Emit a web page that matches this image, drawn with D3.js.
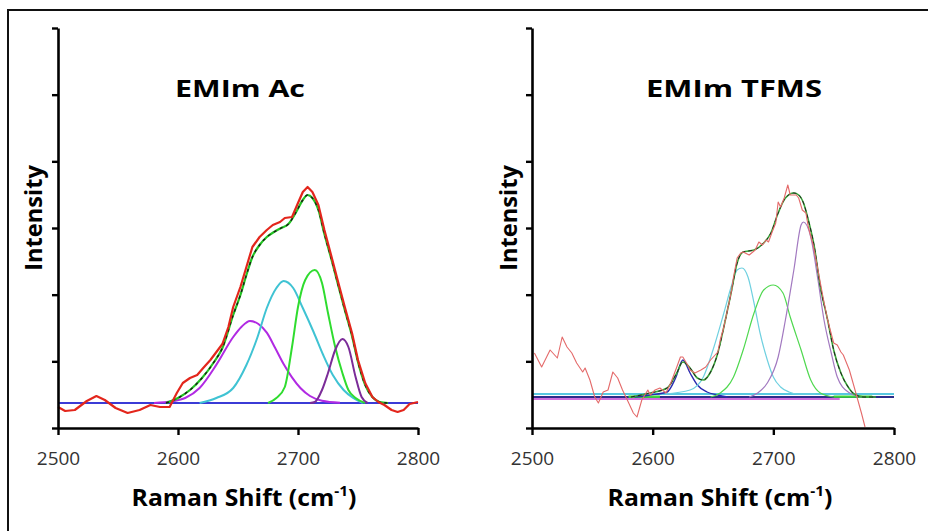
<!DOCTYPE html>
<html>
<head>
<meta charset="utf-8">
<script src="https://cdn.jsdelivr.net/npm/d3@7"></script>
<style>
  html, body { margin: 0; padding: 0; background: #fff; }
  svg { display: block; font-family: "Open Sans", "DejaVu Sans", sans-serif; }
</style>
</head>
<body>
<svg id="chart" width="928" height="531"></svg>
<script>
// Axis ticks shared by both spectra
const xTicks = [2500, 2600, 2700, 2800];
const yTicks = [0, 1, 2, 3, 4, 5, 6];
const panelTitles = ["EMIm Ac", "EMIm TFMS"];
const xAxisTitle = "Raman Shift (cm";
const yAxisTitle = "Intensity";

// ---- EMIm Ac: measured spectrum, total fit, baseline and fitted bands ----
const acRaw = [
  [2500,0.315],[2506,0.255],[2514,0.27],[2524,0.405],[2532,0.48],[2539,0.42],
  [2548,0.30],[2558,0.225],[2568,0.27],[2577,0.345],[2585,0.315],[2593,0.315],
  [2599,0.525],[2604,0.675],[2610,0.75],[2616,0.795],[2621,0.9],[2627,1.02],
  [2632,1.14],[2637,1.26],[2642,1.515],[2646,1.815],[2652,2.115],[2657,2.415],
  [2662,2.715],[2668,2.865],[2674,2.97],[2679,3.045],[2685,3.09],[2689,3.15],
  [2695,3.165],[2700,3.375],[2704,3.54],[2708,3.615],[2712,3.54],[2717,3.345],
  [2722,2.97],[2728,2.565],[2733,2.22],[2739,1.815],[2745,1.425],[2750,1.02],
  [2756,0.675],[2762,0.465],[2767,0.39],[2772,0.345],[2778,0.27],[2783,0.24],
  [2788,0.27],[2793,0.36],[2800,0.39]
];
const acFit = [
  [2590,0.375],[2600,0.45],[2610,0.57],[2620,0.75],[2630,0.99],[2637,1.2],
  [2646,1.695],[2652,1.995],[2657,2.295],[2662,2.565],[2668,2.745],[2674,2.865],
  [2680,2.94],[2686,3.0],[2692,3.06],[2698,3.225],[2704,3.42],[2708,3.495],
  [2712,3.45],[2717,3.27],[2722,2.91],[2728,2.52],[2733,2.175],[2739,1.77],
  [2745,1.38],[2750,0.99],[2756,0.645],[2762,0.465],[2768,0.39],[2775,0.375]
];
const acBaseline = [[2500,0.375],[2800,0.375]];
const acBand2660 = [
  [2580,0.375],[2595,0.40],[2606,0.45],[2618,0.6],[2632,0.95],[2646,1.365],
  [2653,1.52],[2660,1.605],[2667,1.56],[2674,1.43],[2681,1.2],[2688,0.96],
  [2695,0.76],[2702,0.6],[2710,0.48],[2720,0.41],[2735,0.38]
];
const acBand2688 = [
  [2618,0.375],[2632,0.45],[2646,0.6],[2657,0.945],[2666,1.35],[2674,1.8],
  [2682,2.1],[2688,2.205],[2696,2.1],[2704,1.8],[2713,1.44],[2721,1.095],
  [2729,0.795],[2738,0.57],[2746,0.45],[2754,0.375]
];
const acBand2714 = [
  [2675,0.375],[2682,0.45],[2689,0.615],[2695,1.215],[2700,1.815],[2706,2.22],
  [2714,2.37],[2720,2.175],[2725,1.725],[2731,1.215],[2737,0.825],[2742,0.57],
  [2748,0.45],[2756,0.375]
];
const acBand2737 = [
  [2710,0.375],[2714,0.39],[2720,0.57],[2725,0.825],[2731,1.17],[2737,1.335],
  [2742,1.215],[2748,0.765],[2753,0.465],[2758,0.375]
];

// ---- EMIm TFMS: measured spectrum, total fit, baselines and fitted bands ----
const tfRaw = [
  [2502,1.125],[2508,0.915],[2515,1.17],[2521,1.05],[2525,1.365],[2529,1.215],
  [2533,1.125],[2537,0.975],[2542,0.84],[2544,0.9],[2548,0.72],[2552,0.465],
  [2555,0.375],[2559,0.54],[2563,0.57],[2567,0.84],[2571,0.75],[2575,0.57],
  [2579,0.42],[2584,0.225],[2587,0.165],[2591,0.42],[2596,0.57],[2598,0.495],
  [2602,0.57],[2606,0.6],[2611,0.525],[2615,0.675],[2620,0.915],[2623,1.065],
  [2625,1.065],[2629,0.945],[2631,0.87],[2635,0.825],[2640,0.87],[2644,0.915],
  [2648,1.02],[2654,1.14],[2656,1.32],[2659,1.515],[2662,1.77],[2665,2.025],
  [2667,2.265],[2670,2.55],[2673,2.625],[2675,2.64],[2680,2.595],[2683,2.64],
  [2685,2.67],[2688,2.79],[2691,2.745],[2694,2.82],[2696,2.79],[2699,2.94],
  [2702,3.075],[2704,3.39],[2706,3.315],[2709,3.45],[2712,3.645],[2714,3.495],
  [2719,3.495],[2721,3.45],[2724,3.27],[2727,3.225],[2729,3.015],[2733,2.745],
  [2737,2.37],[2741,1.98],[2745,1.62],[2750,1.275],[2753,1.245],[2756,1.14],
  [2758,1.095],[2763,0.87],[2767,0.615],[2770,0.42],[2773,0.225],[2776,0.015]
];
const tfFit = [
  [2582,0.465],[2598,0.525],[2612,0.6],[2620,0.825],[2625,0.99],[2631,0.9],
  [2637,0.75],[2642,0.72],[2648,0.84],[2654,1.125],[2659,1.515],[2665,2.025],
  [2670,2.475],[2675,2.64],[2684,2.67],[2692,2.775],[2698,2.925],[2704,3.225],
  [2710,3.45],[2717,3.525],[2721,3.495],[2725,3.375],[2729,3.12],[2734,2.715],
  [2739,2.115],[2745,1.62],[2750,1.17],[2756,0.825],[2762,0.615],[2767,0.51],
  [2775,0.465],[2785,0.465]
];
const tfBaselineCyan = [[2500,0.51],[2800,0.51]];
const tfBaselineNavy = [[2500,0.465],[2800,0.465]];
const tfBaselineMagenta = [[2500,0.435],[2755,0.435]];
const tfBand2625 = [
  [2585,0.465],[2598,0.495],[2612,0.54],[2619,0.75],[2625,1.02],[2631,0.825],
  [2637,0.645],[2645,0.54],[2654,0.495],[2662,0.465]
];
const tfBand2674 = [
  [2610,0.51],[2631,0.57],[2642,0.765],[2650,1.17],[2659,1.725],[2665,2.115],
  [2670,2.37],[2674,2.4],[2679,2.265],[2684,1.875],[2689,1.425],[2695,1.02],
  [2700,0.765],[2706,0.615],[2713,0.54],[2720,0.51],[2735,0.51]
];
const tfBand2700 = [
  [2648,0.465],[2656,0.525],[2667,0.765],[2675,1.17],[2684,1.725],[2692,2.07],
  [2700,2.145],[2708,2.025],[2714,1.665],[2723,1.17],[2731,0.72],[2739,0.525],
  [2750,0.465]
];
const tfBand2724 = [
  [2680,0.465],[2687,0.525],[2695,0.675],[2704,1.065],[2710,1.62],[2717,2.37],
  [2723,3.045],[2725,3.09],[2731,2.865],[2737,2.22],[2742,1.62],[2748,1.125],
  [2753,0.765],[2762,0.54],[2773,0.465]
];
const tfGreenTails = [
  [[2580,0.47],[2606,0.47]],
  [[2750,0.47],[2782,0.47]]
];

const svg = d3.select("#chart");

// Outer frame around the figure
svg.append("path")
  .attr("d", "M8,540 L8,10 L940,10")
  .attr("fill", "none").attr("stroke", "#111").attr("stroke-width", 2);

// Stretch a text node horizontally so that it spans a given width
function fitWidth(node, width) {
  const w = node.getBBox().width;
  return w > 0 ? width / w : 1;
}

const panels = [
  {
    title: panelTitles[0], x0: 58, x1: 418, titleX: 240, titleW: 130,
    yLabelX: 42, xLabelX: 244,
    layers: [
      { data: [acBaseline], color: "#3b3bd6", width: 2.2 },
      { data: [acBand2660], color: "#b12ae3", width: 2 },
      { data: [acBand2688], color: "#3fc3d3", width: 2 },
      { data: [acBand2714], color: "#2fdc2f", width: 2 },
      { data: [acBand2737], color: "#7b2c98", width: 2 },
      { data: [acFit], color: "#22c322", width: 2.2, curve: true },
      { data: [acFit], color: "#1a1a1a", width: 1.4, dash: "3,4", curve: true },
      { data: [acRaw], color: "#e3261c", width: 2.2, raw: true }
    ]
  },
  {
    title: panelTitles[1], x0: 532, x1: 894, titleX: 734, titleW: 176,
    yLabelX: 517, xLabelX: 720,
    layers: [
      { data: [tfBaselineMagenta], color: "#c040d0", width: 1.6 },
      { data: [tfBaselineCyan], color: "#58c8e0", width: 1.8 },
      { data: [tfBaselineNavy], color: "#2d2d8a", width: 1.8 },
      { data: tfGreenTails, color: "#3ad83a", width: 2.4 },
      { data: [tfBand2625], color: "#2a2ab0", width: 1.4 },
      { data: [tfBand2674], color: "#6fd0e0", width: 1.2 },
      { data: [tfBand2700], color: "#4fd84f", width: 1.2 },
      { data: [tfBand2724], color: "#a279c0", width: 1.2 },
      { data: [tfFit], color: "#3aa83a", width: 1.6, curve: true },
      { data: [tfFit], color: "#222", width: 1.0, dash: "4,3", curve: true },
      { data: [tfRaw], color: "#e46a6a", width: 1.1, raw: true }
    ]
  }
];

const yTop = 28, yBottom = 428;

panels.forEach(p => {
  const x = d3.scaleLinear().domain([2500, 2800]).range([p.x0, p.x1]);
  const y = d3.scaleLinear().domain([0, 6]).range([yBottom, yTop]);
  const g = svg.append("g");

  // Spectra and fitted bands
  p.layers.forEach(layer => {
    const line = d3.line()
      .x(d => x(d[0])).y(d => y(d[1]))
      .curve(layer.raw ? d3.curveLinear : d3.curveMonotoneX);
    layer.data.forEach(series => {
      g.append("path")
        .attr("d", line(series))
        .attr("fill", "none")
        .attr("stroke", layer.color)
        .attr("stroke-width", layer.width)
        .attr("stroke-linejoin", "round")
        .attr("stroke-dasharray", layer.dash || null);
    });
  });

  // Axes
  const xAxis = g.append("g")
    .attr("transform", `translate(0,${yBottom})`)
    .call(d3.axisBottom(x).tickValues(xTicks).tickFormat(d3.format("d"))
      .tickSize(7).tickSizeOuter(0).tickPadding(17));
  const yAxis = g.append("g")
    .attr("transform", `translate(${p.x0},0)`)
    .call(d3.axisLeft(y).tickValues(yTicks).tickSize(6).tickSizeOuter(0).tickFormat(""));
  [xAxis, yAxis].forEach(a => {
    a.select(".domain").attr("stroke", "#000").attr("stroke-width", 2.6);
    a.selectAll(".tick line").attr("stroke", "#000").attr("stroke-width", 2.4);
  });
  xAxis.selectAll(".tick text")
    .attr("fill", "#333")
    .style("font-family", "'Open Sans', sans-serif")
    .style("font-size", "19px");

  // Panel title
  const t = g.append("text")
    .attr("text-anchor", "middle")
    .attr("font-weight", "bold")
    .attr("font-size", 24)
    .attr("fill", "#000")
    .text(p.title);
  t.attr("transform", `translate(${p.titleX},97) scale(${fitWidth(t.node(), p.titleW)},1)`);

  // X axis title with superscript
  const xl = g.append("text")
    .attr("text-anchor", "middle")
    .attr("font-weight", "bold")
    .attr("font-size", 24)
    .attr("fill", "#000");
  xl.append("tspan").text(xAxisTitle);
  xl.append("tspan").attr("font-size", 15).attr("dy", -10).text("-1");
  xl.append("tspan").attr("dy", 10).text(")");
  xl.attr("transform", `translate(${p.xLabelX},506) scale(${fitWidth(xl.node(), 225)},1)`);

  // Y axis title
  const yl = g.append("text")
    .attr("text-anchor", "middle")
    .attr("font-weight", "bold")
    .attr("font-size", 24)
    .attr("fill", "#000")
    .text(yAxisTitle);
  yl.attr("transform", `translate(${p.yLabelX},218) rotate(-90) scale(${fitWidth(yl.node(), 106)},1)`);
});
</script>
</body>
</html>
